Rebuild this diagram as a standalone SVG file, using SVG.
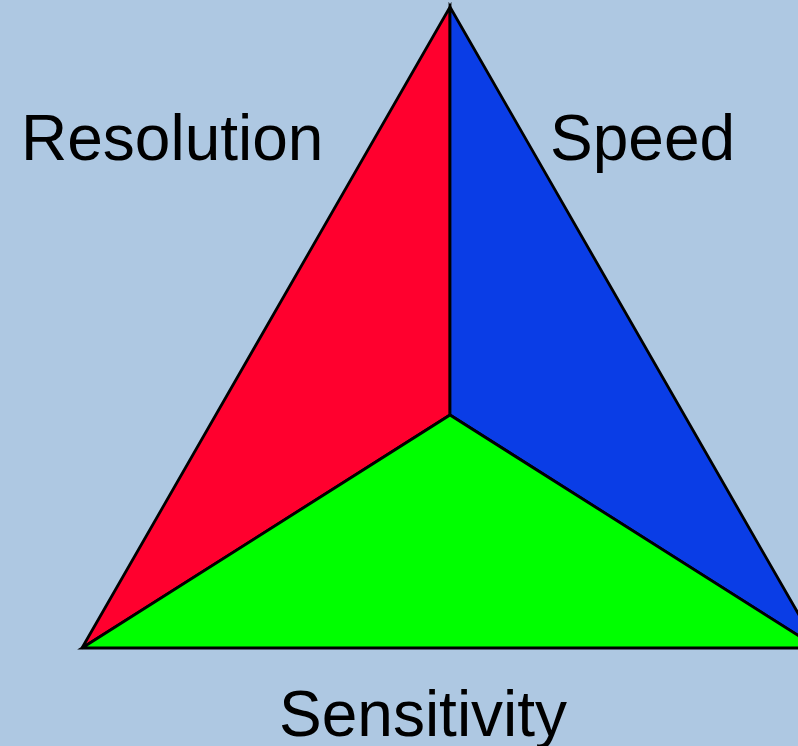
<svg xmlns="http://www.w3.org/2000/svg" width="798" height="746" viewBox="0 0 798 746">
<style>
.face{stroke:#000;stroke-width:2.8;stroke-linejoin:miter}
.lbl{font-family:"Liberation Sans",Arial,sans-serif;font-size:64px;fill:#000}
</style>
<rect x="0" y="0" width="798" height="746" fill="#AEC8E2"/>
<g id="resolution-face"><polygon class="face" points="450,7 450,415 82,648" fill="#FF002E"/></g>
<g id="speed-face"><polygon class="face" points="450,7 818,648 450,415" fill="#0A3DE6"/></g>
<g id="sensitivity-face"><polygon class="face" points="450,415 818,648 82,648" fill="#00FF00"/></g>
<g id="labels">
<text class="lbl" x="21" y="160">Resolution</text>
<text class="lbl" x="550" y="160">Speed</text>
<text class="lbl" x="279" y="736">Sensitivity</text>
</g>
</svg>
